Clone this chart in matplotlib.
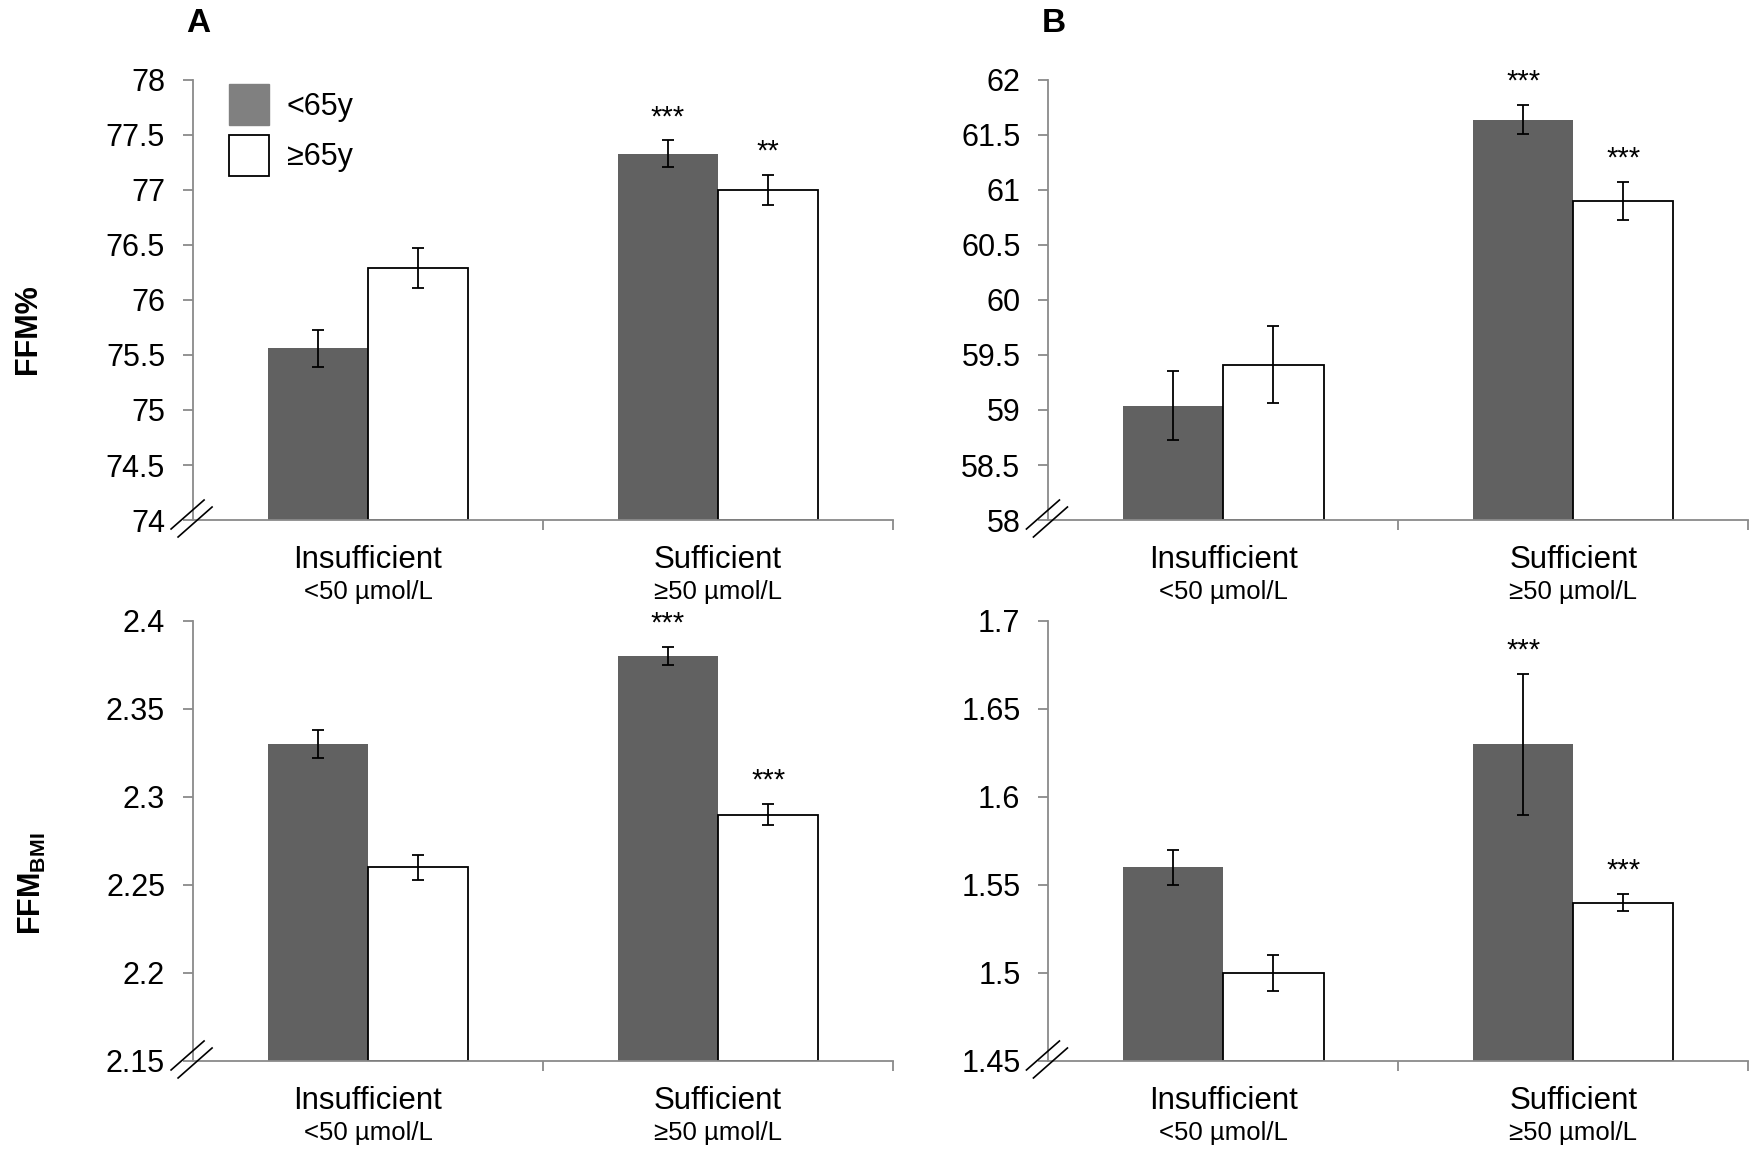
import matplotlib
matplotlib.use('Agg')
import matplotlib.pyplot as plt
from matplotlib.lines import Line2D
from matplotlib.patches import Patch
from matplotlib.transforms import IdentityTransform

plt.rcParams['font.family'] = ['Liberation Sans', 'DejaVu Sans']
plt.rcParams['mathtext.fontset'] = 'custom'
plt.rcParams['mathtext.rm'] = 'Liberation Sans'
plt.rcParams['mathtext.bf'] = 'Liberation Sans:bold'

# data
categories = ['Insufficient', 'Sufficient']
sublabels = ['<50 µmol/L', '≥50 µmol/L']
groups = ['<65y', '≥65y']

# A, FFM%
a_ffm_young = [75.56, 77.33]
a_ffm_young_err = [0.17, 0.12]
a_ffm_old = [76.29, 77.0]
a_ffm_old_err = [0.18, 0.14]
a_ffm_stars = [['', '***'], ['', '**']]
a_ffm_ticks = [74, 74.5, 75, 75.5, 76, 76.5, 77, 77.5, 78]

# B, FFM%
b_ffm_young = [59.04, 61.64]
b_ffm_young_err = [0.31, 0.13]
b_ffm_old = [59.41, 60.9]
b_ffm_old_err = [0.35, 0.17]
b_ffm_stars = [['', '***'], ['', '***']]
b_ffm_ticks = [58, 58.5, 59, 59.5, 60, 60.5, 61, 61.5, 62]

# A, FFM_BMI
a_bmi_young = [2.33, 2.38]
a_bmi_young_err = [0.008, 0.005]
a_bmi_old = [2.26, 2.29]
a_bmi_old_err = [0.007, 0.006]
a_bmi_stars = [['', '***'], ['', '***']]
a_bmi_ticks = [2.15, 2.2, 2.25, 2.3, 2.35, 2.4]

# B, FFM_BMI
b_bmi_young = [1.56, 1.63]
b_bmi_young_err = [0.01, 0.04]
b_bmi_old = [1.50, 1.54]
b_bmi_old_err = [0.01, 0.005]
b_bmi_stars = [['', '***'], ['', '***']]
b_bmi_ticks = [1.45, 1.5, 1.55, 1.6, 1.65, 1.7]

dark = '#616161'
spine_col = '#8a8a8a'
bar_w = 0.286

fig = plt.figure(figsize=(17.6, 11.52), dpi=100)

# axes positions (figure fractions)
lefts = [0.1097, 0.5957]
bottoms = [0.5486, 0.079]
w, h = 0.3977, 0.382

panels = [
    (a_ffm_young, a_ffm_young_err, a_ffm_old, a_ffm_old_err, a_ffm_stars, a_ffm_ticks),
    (b_ffm_young, b_ffm_young_err, b_ffm_old, b_ffm_old_err, b_ffm_stars, b_ffm_ticks),
    (a_bmi_young, a_bmi_young_err, a_bmi_old, a_bmi_old_err, a_bmi_stars, a_bmi_ticks),
    (b_bmi_young, b_bmi_young_err, b_bmi_old, b_bmi_old_err, b_bmi_stars, b_bmi_ticks),
]

axes = []
for k, (yv, ye, ov, oe, stars, ticks) in enumerate(panels):
    ax = fig.add_axes([lefts[k % 2], bottoms[k // 2], w, h])
    axes.append(ax)
    x = list(range(len(categories)))
    xy = [i - bar_w / 2 for i in x]
    xo = [i + bar_w / 2 for i in x]
    ax.bar(xy, [v - ticks[0] for v in yv], bottom=ticks[0], width=bar_w,
           color=dark, edgecolor='none', zorder=1)
    ax.bar(xo, [v - ticks[0] for v in ov], bottom=ticks[0], width=bar_w,
           color='white', edgecolor='black', linewidth=1.3, zorder=1)
    ax.errorbar(xy, yv, yerr=ye, fmt='none', ecolor='black', elinewidth=1.3,
                capsize=4.5, capthick=1.3, zorder=3)
    ax.errorbar(xo, ov, yerr=oe, fmt='none', ecolor='black', elinewidth=1.3,
                capsize=4.5, capthick=1.3, zorder=3)
    # significance stars
    for xs, vals, errs, st in [(xy, yv, ye, stars[0]), (xo, ov, oe, stars[1])]:
        for xi, v, e, s in zip(xs, vals, errs, st):
            if s:
                ax.annotate(s, (xi, v + e), xytext=(0, 11), textcoords='offset points',
                            ha='center', va='baseline', fontsize=21)

    ax.set_xlim(-0.5, 1.5)
    ax.set_ylim(ticks[0], ticks[-1])
    ax.set_yticks(ticks)
    ax.set_yticklabels(['{:g}'.format(t) for t in ticks], fontsize=22)
    ax.set_xticks([0.5, 1.5])
    ax.set_xticklabels([])
    for sp in ['top', 'right']:
        ax.spines[sp].set_visible(False)
    for sp in ['left', 'bottom']:
        ax.spines[sp].set_color(spine_col)
        ax.spines[sp].set_linewidth(1.3)
    ax.tick_params(axis='both', direction='out', length=7.2, width=1.3, color=spine_col)
    ax.tick_params(axis='y', pad=13)
    for i, (c, s) in enumerate(zip(categories, sublabels)):
        ax.text(i, -0.109, c, transform=ax.get_xaxis_transform(), ha='center',
                va='baseline', fontsize=22.5)
        ax.text(i, -0.18, s, transform=ax.get_xaxis_transform(), ha='center',
                va='baseline', fontsize=18.5)

leg_handles = [Patch(facecolor='#808080', edgecolor='#808080'),
               Patch(facecolor='white', edgecolor='black', linewidth=1.3)]
axes[0].legend(leg_handles, groups, loc='upper left', bbox_to_anchor=(0.051, 0.99),
               frameon=False, fontsize=22, handlelength=1.31, handleheight=1.69,
               labelspacing=0.3, handletextpad=0.59, borderaxespad=0, borderpad=0)

# y labels and panel letters
fig.text(0.0159, 0.714, 'FFM%', rotation=90, ha='center', va='center',
         fontsize=22, fontweight='bold')
fig.text(0.0185, 0.2326, r'$\mathbf{FFM}_{\mathbf{BMI}}$', rotation=90, ha='center',
         va='center', fontsize=22)
fig.text(0.1125, 0.980, 'A', ha='center', va='center', fontsize=24, fontweight='bold')
fig.text(0.5986, 0.980, 'B', ha='center', va='center', fontsize=24, fontweight='bold')

# axis break marks at the bottom-left corner of each panel
fig.canvas.draw()
for ax in axes:
    cx, cy = ax.transAxes.transform((0, 0))
    for (x0, y0, x1, y1) in [(-22, -9, 11, 20), (-15, -17, 19, 13)]:
        fig.add_artist(Line2D([cx + x0, cx + x1], [cy + y0, cy + y1],
                              transform=IdentityTransform(), color='black', lw=1.2))

fig.savefig('out.png', dpi=100)
